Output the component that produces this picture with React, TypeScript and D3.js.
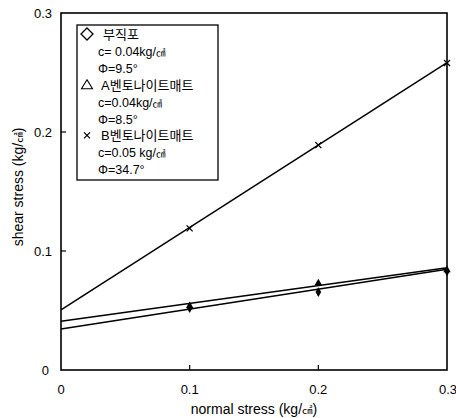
import * as d3 from "d3"

const xTicks = [0, 0.1, 0.2, 0.3]
const yTicks = [0, 0.1, 0.2, 0.3]

// fitted lines: intercept c and friction angle phi (deg)
const lineNames = ["부직포", "A벤토나이트매트", "B벤토나이트매트"]
const lineC = [0.0345, 0.041, 0.0505]
const linePhi = [9.5, 8.5, 34.7]

// measured points
const ptX = [0.1, 0.2, 0.3]
const ptNonwoven = [0.052, 0.0655, 0.083]
const ptA = [0.054, 0.073, 0.084]
const ptB = [0.119, 0.189, 0.258]

const legendLines = [
  { sym: "diamond", text: "부직포", unit: false },
  { sym: "", text: "c= 0.04kg/", unit: true },
  { sym: "", text: "Φ=9.5°", unit: false },
  { sym: "triangle", text: "A벤토나이트매트", unit: false },
  { sym: "", text: "c=0.04kg/", unit: true },
  { sym: "", text: "Φ=8.5°", unit: false },
  { sym: "cross", text: "B벤토나이트매트", unit: false },
  { sym: "", text: "c=0.05 kg/", unit: true },
  { sym: "", text: "Φ=34.7°", unit: false },
]

const FONT = "'Liberation Sans', Arial, 'Noto Sans CJK KR', sans-serif"

export default function App() {
  const width = 456
  const height = 418
  const M = { left: 61, top: 13, right: 9, bottom: 48 }
  const x = d3.scaleLinear().domain([0, 0.3]).range([M.left, width - M.right])
  const y = d3.scaleLinear().domain([0, 0.3]).range([height - M.bottom, M.top])

  const line = d3.line<[number, number]>().x((d) => x(d[0])).y((d) => y(d[1]))

  const fitted = lineC.map((c, i) => {
    const k = Math.tan((linePhi[i] * Math.PI) / 180)
    return line([[0, c], [0.3, c + 0.3 * k]])
  })

  const diamond = d3.symbol().type(d3.symbolDiamond).size(28)
  const tri = d3.symbol().type(d3.symbolTriangle).size(24)

  return (
    <div style={{ position: "fixed", left: 0, top: 0, width, height, overflow: "hidden" }}>
      <svg width={width} height={height} style={{ display: "block", background: "#fff" }} fontFamily={FONT}>
        {/* frame */}
        <rect x={x(0)} y={y(0.3)} width={x(0.3) - x(0)} height={y(0) - y(0.3)} fill="none" stroke="#000" strokeWidth={1.6} />
        {/* ticks */}
        {xTicks.slice(1, -1).map((t) => (
          <line key={"xt" + t} x1={x(t)} x2={x(t)} y1={y(0)} y2={y(0) - 5} stroke="#000" strokeWidth={1.2} />
        ))}
        {yTicks.slice(1, -1).map((t) => (
          <line key={"yt" + t} x1={x(0)} x2={x(0) + 5} y1={y(t)} y2={y(t)} stroke="#000" strokeWidth={1.2} />
        ))}
        {xTicks.map((t) => (
          <text key={"xl" + t} x={x(t) + (t === 0.3 ? 1 : 0)} y={y(0) + 24} textAnchor="middle" fontSize={13}>
            {t === 0 ? "0" : t.toFixed(1)}
          </text>
        ))}
        {yTicks.map((t) => (
          <text key={"yl" + t} x={x(0) - (t === 0 ? 12 : 9)} y={y(t) + 5} textAnchor="end" fontSize={13}>
            {t === 0 ? "0" : t.toFixed(1)}
          </text>
        ))}
        <text x={(x(0) + x(0.3)) / 2} y={414} textAnchor="middle" fontSize={14}>
          normal stress (kg/<tspan fontSize={10.5}>㎠</tspan>)
        </text>
        <text transform={`translate(23,187) rotate(-90)`} textAnchor="middle" fontSize={14}>
          shear stress (kg/<tspan fontSize={10.5}>㎠</tspan>)
        </text>

        {/* fitted lines */}
        {fitted.map((d, i) => (
          <path key={lineNames[i]} d={d ?? ""} fill="none" stroke="#000" strokeWidth={1.5} />
        ))}

        {/* points */}
        {ptX.map((v, i) => (
          <path key={"n" + i} d={diamond() ?? ""} transform={`translate(${x(v)},${y(ptNonwoven[i])})`} fill="#000" />
        ))}
        {ptX.map((v, i) => (
          <path key={"a" + i} d={tri() ?? ""} transform={`translate(${x(v)},${y(ptA[i])})`} fill="#000" />
        ))}
        {ptX.map((v, i) => (
          <g key={"b" + i} transform={`translate(${x(v)},${y(ptB[i])})`} stroke="#000" strokeWidth={1.3}>
            <line x1={-3} y1={-3} x2={3} y2={3} />
            <line x1={-3} y1={3} x2={3} y2={-3} />
          </g>
        ))}

        {/* legend */}
        <rect x={77} y={25} width={141} height={155} fill="#fff" stroke="#000" strokeWidth={1.3} />
        {legendLines.map((l, i) => {
          const cy = 34 + i * 16.9
          return (
            <g key={"lg" + i}>
              {l.sym === "diamond" && (
                <path d="M0,-6L6,0L0,6L-6,0Z" transform={`translate(87,${cy})`} fill="none" stroke="#000" strokeWidth={1.3} />
              )}
              {l.sym === "triangle" && (
                <path d="M0,-5L5.5,4L-5.5,4Z" transform={`translate(87,${cy})`} fill="none" stroke="#000" strokeWidth={1.1} />
              )}
              {l.sym === "cross" && (
                <g transform={`translate(87,${cy})`} stroke="#000" strokeWidth={1.2}>
                  <line x1={-3} y1={-3} x2={3} y2={3} />
                  <line x1={-3} y1={3} x2={3} y2={-3} />
                </g>
              )}
              <text x={l.sym ? (i === 0 ? 103 : 101) : 98} y={cy + 5} fontSize={l.sym ? 13 : 12.5}>
                {l.text}
                {l.unit && <tspan fontSize={9.5}>㎠</tspan>}
              </text>
            </g>
          )
        })}
      </svg>
    </div>
  )
}
